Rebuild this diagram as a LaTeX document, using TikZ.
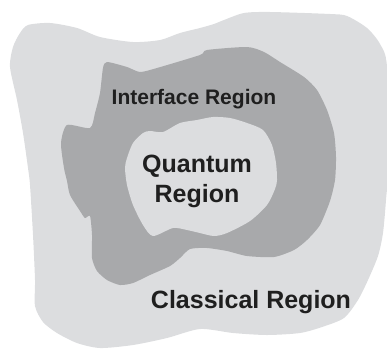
\documentclass[tikz,border=0pt]{standalone}
\usepackage{fontspec}
\setmainfont{Liberation Sans}
\begin{document}
\begin{tikzpicture}[
    x = 1pt, y = -1pt,
    region/.style = {
        line width = 0pt,
        draw       = none
    },
    reglab/.style = {
        font        = \bfseries,
        text        = black!88,
        inner sep   = 0pt,
        anchor      = base,
        align       = center
    }
]

\definecolor{zonaclara}{HTML}{DCDDDF}
\definecolor{zonaoscura}{HTML}{A8A9AB}

% fija el tamaño de la figura (387 x 348)
\useasboundingbox (0,0) rectangle (387,348);

% ================================================================
%  REGION CLASICA (fondo exterior, gris claro)
% ================================================================

\fill[region, zonaclara] plot[smooth cycle, tension=0.45] coordinates {
    (28,25) (50,23) (77,28) (100,37) (133,42) (160,40) (180,33)
    (200,28) (214,24) (224,20) (244,13) (270,12) (330,14) (347,16)
    (367,28) (380,44) (387,67) (388,167) (386,200) (383,233)
    (378,256) (368,280) (358,300) (344,318) (322,327) (300,333)
    (267,335) (233,333) (200,329) (167,338) (133,345) (100,348)
    (77,343) (57,333) (43,322) (35,306) (35,280) (33,235) (30,185)
    (28,168) (23,133) (17,100) (10,67) (13,47) (20,33)
};

% ================================================================
%  REGION DE INTERFAZ (anillo, gris oscuro)
% ================================================================

\fill[region, zonaoscura] plot[smooth cycle, tension=0.4] coordinates {
    (107,62) (127,67) (140,72) (157,68) (200,55) (207,50) (247,47)
    (264,52) (280,62) (304,77) (317,90) (327,110) (334,133)
    (336,157) (335,180) (330,201) (320,225) (307,240) (294,250)
    (274,257) (247,256) (227,251) (207,248) (190,249) (180,258)
    (170,266) (150,275) (133,283) (120,285) (107,280) (97,271)
    (92,258) (92,235) (90,216) (85,218) (80,211) (70,195) (67,181)
    (64,168) (61,143) (67,125) (90,128) (95,113) (100,93) (103,68)
};

% ================================================================
%  REGION CUANTICA (interior, gris claro)
% ================================================================

\fill[region, zonaclara] plot[smooth cycle, tension=0.45] coordinates {
    (143,133) (150,131) (163,132) (180,123) (197,120) (213,117)
    (230,118) (247,123) (263,130) (272,145) (276,163) (277,180)
    (275,189) (267,205) (250,221) (227,233) (214,236) (200,233)
    (187,230) (173,228) (153,236) (143,225) (133,205) (127,185)
    (125,168) (127,158) (133,143)
};

% ================================================================
%  ETIQUETAS
% ================================================================

\node[reglab, font=\fontsize{21}{25}\selectfont\bfseries]
    (interfacelab) at (194,104) {Interface Region};

% la base del nodo es la de la ultima linea
\node[reglab, font=\fontsize{25}{30}\selectfont\bfseries]
    (quantumlab) at (197,202) {Quantum\\Region};

\node[reglab, font=\fontsize{25}{30}\selectfont\bfseries]
    (classicallab) at (251,308) {Classical Region};

\end{tikzpicture}
\end{document}
